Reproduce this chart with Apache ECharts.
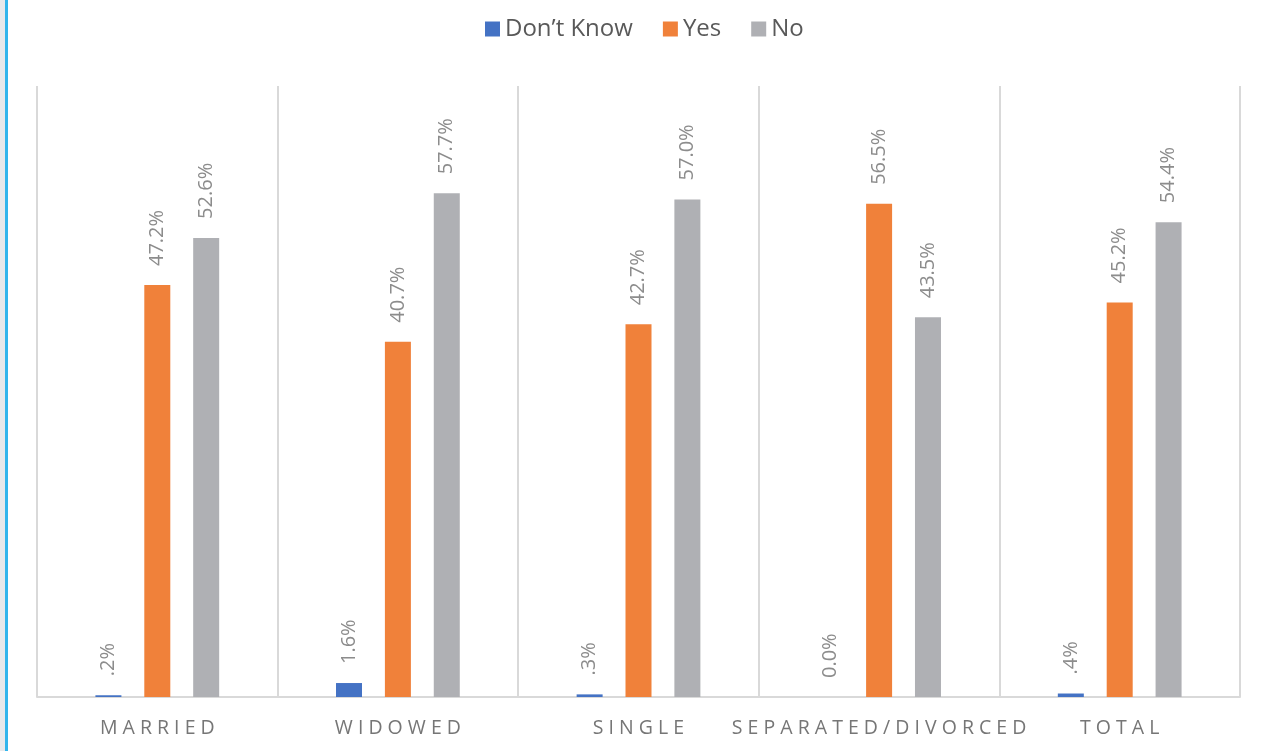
<!DOCTYPE html>
<html>
<head>
<meta charset="utf-8">
<title>Don't Know / Yes / No by marital status</title>
<script src="https://cdn.jsdelivr.net/npm/echarts@6/dist/echarts.min.js"></script>
<style>
  html, body { margin: 0; padding: 0; background: #ffffff; }
  #chart { width: 1265px; height: 751px; }
</style>
</head>
<body>
<div id="chart"></div>
<script>
// Marital status groups along the category axis
const categories = ['MARRIED', 'WIDOWED', 'SINGLE', 'SEPARATED/DIVORCED', 'TOTAL'];

// Share of respondents (%) per answer
const dontKnow = [0.2, 1.6, 0.3, 0.0, 0.4];
const yes = [47.2, 40.7, 42.7, 56.5, 45.2];
const no = [52.6, 57.7, 57.0, 43.5, 54.4];

const seriesNames = ['Don\u2019t Know', 'Yes', 'No'];
const seriesColors = ['#4472C4', '#F0813A', '#AFB0B4'];

const FONT = '"Open Sans", "Noto Sans", sans-serif';

// Spread the letters of a category name, as the axis text is tracked out
const spaced = s => s.split('').join(' ');

// Percent labels: values below 1 drop their leading zero (".2%"), zero stays "0.0%"
const pctLabel = v => {
  let t = v.toFixed(1);
  if (v > 0 && v < 1) t = t.replace(/^0/, '');
  return t + '%';
};

const chart = echarts.init(document.getElementById('chart'), null, { renderer: 'canvas' });

const makeSeries = (name, data, color) => ({
  name: name,
  type: 'bar',
  data: data,
  barWidth: 26,
  barGap: '88%',
  itemStyle: { color: color },
  label: {
    show: true,
    position: 'top',
    rotate: 90,
    align: 'left',
    verticalAlign: 'middle',
    distance: 19,
    color: '#8C8C8C',
    fontFamily: FONT,
    fontSize: 20,
    formatter: p => pctLabel(p.value)
  },
  emphasis: { disabled: true }
});

chart.setOption({
  animation: false,
  backgroundColor: '#ffffff',
  textStyle: { fontFamily: FONT },
  legend: {
    top: 12,
    left: 480,
    itemWidth: 15,
    itemHeight: 15,
    itemGap: 30,
    icon: 'rect',
    textStyle: { color: '#595959', fontSize: 24, fontFamily: FONT },
    data: seriesNames
  },
  grid: { left: 37, right: 25, top: 86, bottom: 54 },
  xAxis: {
    type: 'category',
    data: categories,
    boundaryGap: true,
    axisLine: { show: true, lineStyle: { color: '#D9D9D9', width: 2 } },
    axisTick: { show: false },
    splitLine: { show: true, interval: 0, lineStyle: { color: '#D9D9D9', width: 2 } },
    axisLabel: {
      interval: 0,
      margin: 21,
      color: '#767676',
      fontSize: 19.5,
      fontFamily: FONT,
      formatter: v => spaced(v)
    }
  },
  yAxis: {
    type: 'value',
    min: 0,
    max: 70,
    show: false,
    splitLine: { show: false }
  },
  graphic: [
    { type: 'rect', left: 0, top: 0, shape: { width: 5, height: 751 }, style: { fill: '#E8E9EB' }, silent: true },
    { type: 'rect', left: 5, top: 0, shape: { width: 3, height: 751 }, style: { fill: '#33B5EC' }, silent: true }
  ],
  series: [
    makeSeries(seriesNames[0], dontKnow, seriesColors[0]),
    makeSeries(seriesNames[1], yes, seriesColors[1]),
    makeSeries(seriesNames[2], no, seriesColors[2])
  ]
});
</script>
</body>
</html>
